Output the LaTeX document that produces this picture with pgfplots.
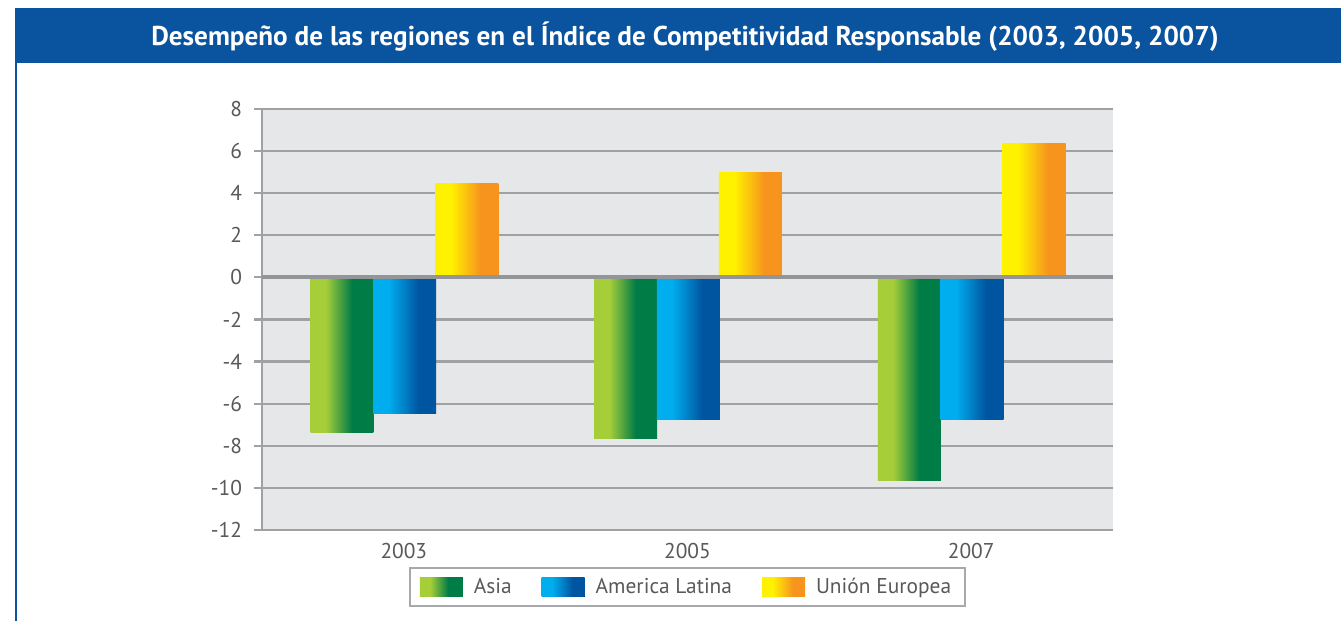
\documentclass[border=0pt]{standalone}
\usepackage{pgfplots}
\pgfplotsset{compat=1.18}
\usepackage{fontspec}
\setmainfont{PT Sans}

\definecolor{bannerblue}{HTML}{0A539E}
\definecolor{plotbg}{HTML}{E6E7E8}
\definecolor{gridgray}{HTML}{9FA1A4}
\definecolor{zerogray}{HTML}{939598}
\definecolor{ticklab}{HTML}{58595B}
\definecolor{legendgray}{HTML}{A7A9AC}
\definecolor{asiaA}{HTML}{A6CE39}
\definecolor{asiaB}{HTML}{007C46}
\definecolor{latA}{HTML}{00AEEF}
\definecolor{latB}{HTML}{0055A0}
\definecolor{ueA}{HTML}{FFF200}
\definecolor{ueB}{HTML}{F7941D}

% left to right gradients, flat at both ends like the original bars
\pgfdeclarehorizontalshading{asiashade}{100bp}{color(0bp)=(asiaA); color(37bp)=(asiaA); color(58bp)=(asiaB); color(100bp)=(asiaB)}
\pgfdeclarehorizontalshading{latshade}{100bp}{color(0bp)=(latA); color(37bp)=(latA); color(61bp)=(latB); color(100bp)=(latB)}
\pgfdeclarehorizontalshading{ueshade}{100bp}{color(0bp)=(ueA); color(37bp)=(ueA); color(61bp)=(ueB); color(100bp)=(ueB)}

% one plot per bar, so that each bar gets its own gradient
\pgfplotsset{
  asia/.style={ybar, draw=none, shading=asiashade, bar shift=-0.218, forget plot},
  lat/.style={ybar, draw=none, shading=latshade, bar shift=0.003, forget plot},
  ue/.style={ybar, draw=none, shading=ueshade, bar shift=0.222, forget plot},
}

\begin{document}
\begin{tikzpicture}[x=1pt,y=1pt]
\fill[white] (0,0) rectangle (670.5,310.5);
\fill[bannerblue] (7.5,279) rectangle (670.5,306.5);
\fill[bannerblue] (7.5,0) rectangle (8.5,279);
\node[text=white, font=\fontsize{13.6}{15}\selectfont\bfseries] at (342.5,292)
  {Desempeño de las regiones en el Índice de Competitividad Responsable (2003, 2005, 2007)};

\begin{axis}[
    at={(131pt,45.5pt)}, anchor=south west,
    scale only axis, width=425.5pt, height=210.5pt,
    xmin=-0.5, xmax=2.5, ymin=-12, ymax=8,
    ytick={-12,-10,...,8},
    xtick={0,1,2}, xticklabels={2003,2005,2007},
    major x tick style={draw=none},
    extra x ticks={-0.5,0.5,1.5,2.5}, extra x tick labels={},
    extra x tick style={grid=none, tick style={line width=1.1pt, gridgray}},
    axis x line*=bottom, axis y line*=left,
    axis line style={line width=1.1pt, gridgray},
    axis background/.style={fill=plotbg},
    ymajorgrids, grid style={line width=1.1pt, gridgray},
    tick align=outside, major tick length=4pt,
    tick style={line width=1.1pt, gridgray},
    tick label style={font=\fontsize{10.7}{12}\selectfont, text=ticklab},
    yticklabel style={xshift=-2.5pt},
    xticklabel style={yshift=1pt},
    /pgf/number format/assume math mode=true,
    bar width=0.222,
    legend columns=3,
    legend style={at={(0.5,-0.088)}, anchor=north, draw=legendgray, line width=1pt,
        fill=white, font=\fontsize{10.7}{12}\selectfont, text=ticklab,
        inner xsep=5pt, inner ysep=3pt,
        /tikz/every even column/.append style={column sep=13pt}},
    legend image code/.code={\fill[#1] (0pt,-4.75pt) rectangle (21.5pt,4.75pt);
        \path (25pt,0pt);},
]
% Asia
\addplot[asia] coordinates {(0,-7.35)};
\addplot[asia] coordinates {(1,-7.65)};
\addplot[asia] coordinates {(2,-9.65)};
% America Latina
\addplot[lat] coordinates {(0,-6.45)};
\addplot[lat] coordinates {(1,-6.77)};
\addplot[lat] coordinates {(2,-6.75)};
% Union Europea
\addplot[ue] coordinates {(0,4.45)};
\addplot[ue] coordinates {(1,5.0)};
\addplot[ue] coordinates {(2,6.35)};
\draw[line width=2pt, zerogray] ([xshift=-3.5pt]axis cs:-0.5,0) -- (axis cs:2.5,0);
\addlegendimage{draw=none, shading=asiashade}
\addlegendentry{Asia}
\addlegendimage{draw=none, shading=latshade}
\addlegendentry{America Latina}
\addlegendimage{draw=none, shading=ueshade}
\addlegendentry{Unión Europea}
\end{axis}
\pgfresetboundingbox
\useasboundingbox (0,0) rectangle (670.5,310.5);
\end{tikzpicture}
\end{document}
